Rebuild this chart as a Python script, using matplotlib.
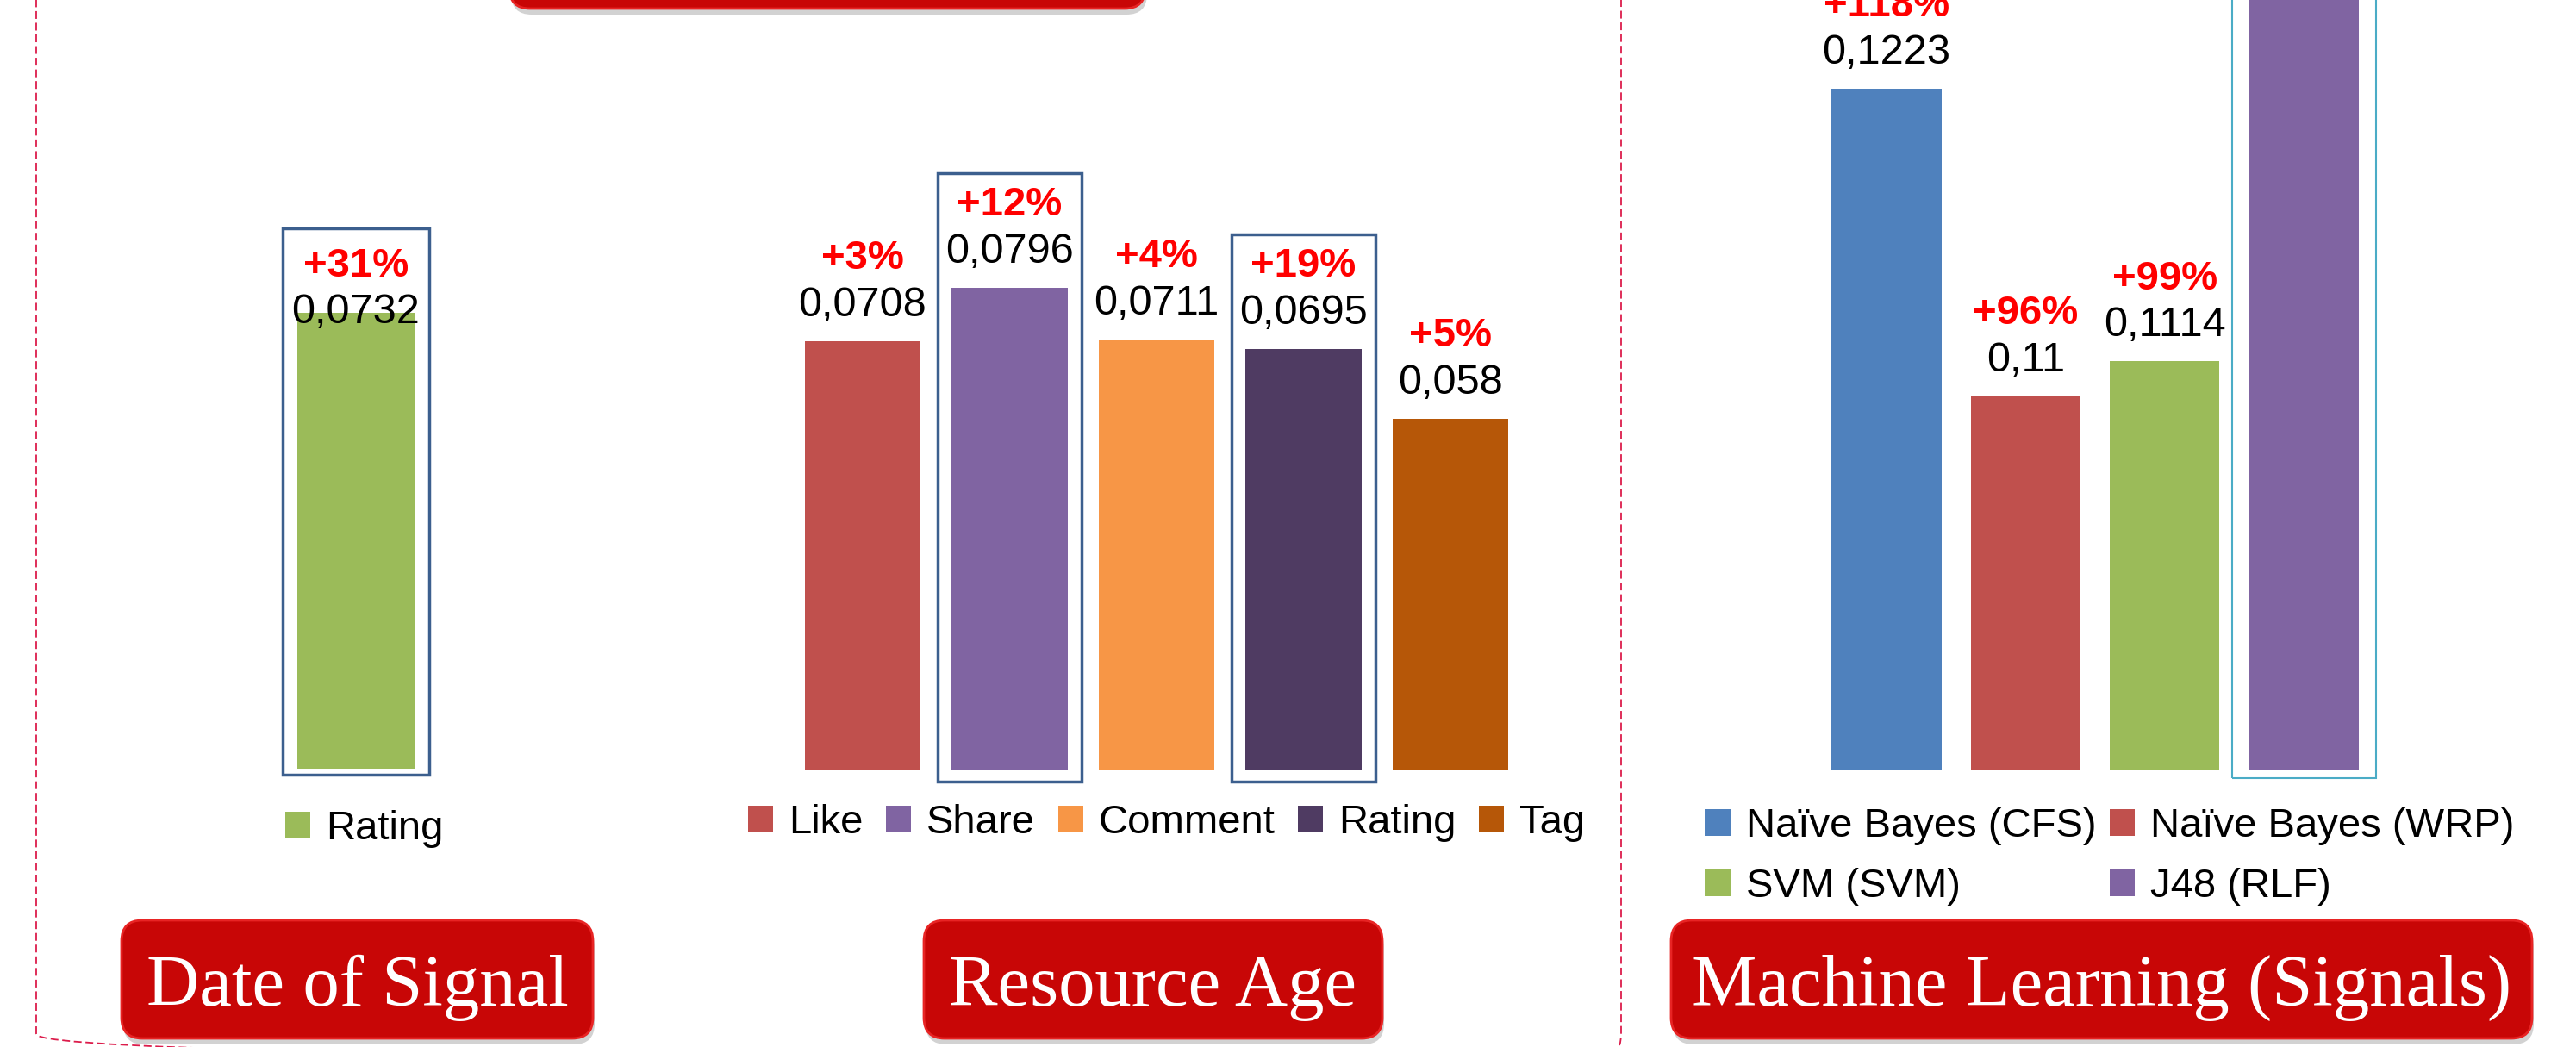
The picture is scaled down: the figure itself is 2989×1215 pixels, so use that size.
import numpy as np
import matplotlib
matplotlib.use('Agg')
import matplotlib.pyplot as plt
from matplotlib.patches import FancyBboxPatch

# data
date_names = ['Rating']
date_values = [0.0732]
date_gain = ['+31%']

age_names = ['Like', 'Share', 'Comment', 'Rating', 'Tag']
age_values = [0.0708, 0.0796, 0.0711, 0.0695, 0.058]
age_gain = ['+3%', '+12%', '+4%', '+19%', '+5%']

ml_names = ['Naïve Bayes (CFS)', 'Naïve Bayes (WRP)', 'SVM (SVM)', 'J48 (RLF)']
ml_values = [0.1223, 0.11, 0.1114, 0.135]
ml_gain = ['+118%', '+96%', '+99%', None]

panel_titles = ['Date of Signal', 'Resource Age', 'Machine Learning (Signals)']

plt.rcParams['font.family'] = ['Liberation Sans', 'DejaVu Sans']

W, H = 2989, 1215
fig = plt.figure(figsize=(W / 100, H / 100), dpi=100)

# overlay in pixel coords (y downwards) for buttons / frame
ov = fig.add_axes([0, 0, 1, 1])
ov.set_xlim(0, W)
ov.set_ylim(H, 0)
ov.axis('off')


def px_axes(x0, x1, y_bot):
    ax = fig.add_axes([x0 / W, 1 - y_bot / H, (x1 - x0) / W, y_bot / H])
    ax.axis('off')
    ax.patch.set_alpha(0)
    return ax


def fmt(v):
    return f"{v:.4f}".rstrip('0').replace('.', ',')


def panel(ax, values, colors, gains, ymin, ymax, n, box_idx, box_pad, box_low,
          box_w, box_color, box_lw, value_off):
    ax.set_xlim(-0.5, n - 0.5)
    ax.set_ylim(ymin, ymax)
    x = np.arange(len(values))
    vals = np.array(values)
    bars = ax.bar(x, vals - ymin, bottom=ymin, width=0.79, color=colors, zorder=2)
    for i in box_idx:
        ax.bar(x[i], vals[i] + box_pad - (ymin - box_low), bottom=ymin - box_low,
               width=box_w, fill=False, edgecolor=box_color, linewidth=box_lw,
               clip_on=False, zorder=1)
    for xi, v, g in zip(x, vals, gains):
        if g is None:
            continue
        ax.annotate(fmt(v), (xi, v), xytext=(0, value_off), textcoords='offset points',
                    ha='center', va='center', fontsize=35, color='black', zorder=3)
        ax.annotate(g, (xi, v), xytext=(0, value_off + 39), textcoords='offset points',
                    ha='center', va='center', fontsize=34, color='#FF0000',
                    fontweight='bold', zorder=3)
    return bars


leg_kw = dict(frameon=False, fontsize=34, borderpad=0, borderaxespad=0,
              handlelength=0.62, handleheight=0.62, handletextpad=0.38,
              bbox_transform=fig.transFigure)

# panel 1 - Date of Signal
ax1 = px_axes(326.5, 499.5, 892)
b1 = panel(ax1, date_values, ['#9BBB59'], date_gain, 0, 0.1234, 1,
           [0], 0.0136, 0.001, 0.977, '#3C5F8E', 2.5, 0)
ax1.legend(b1.patches, date_names, loc='center left',
           bbox_to_anchor=(331 / W, 1 - 962 / H), **leg_kw)

# panel 2 - Resource Age
ax2 = px_axes(915.75, 1768.25, 893)
b2 = panel(ax2, age_values, ['#C0504D', '#8064A2', '#F79646', '#4F3B62', '#B65708'],
           age_gain, 0, 0.1272, 5, [1, 3], 0.019, 0.002, 0.975, '#3C5F8E', 2.5, 30)
ax2.legend(b2.patches, age_names, loc='center left', ncol=5,
           bbox_to_anchor=(868 / W, 1 - 955 / H), columnspacing=0.56, **leg_kw)

# panel 3 - Machine Learning
ax3 = px_axes(2108.3, 2753.7, 893)
b3 = panel(ax3, ml_values, ['#4F81BD', '#C0504D', '#9BBB59', '#8064A2'], ml_gain,
           0.09508, 0.12585, 4, [3], 0.01, 0.00034, 1.035, '#4BACC6', 1.5, 30)
order = [0, 2, 1, 3]
ax3.legend([b3.patches[i] for i in order], [ml_names[i] for i in order],
           loc='center left', ncol=2, bbox_to_anchor=(1978.5 / W, 1 - 994 / H),
           columnspacing=0.33, labelspacing=0.55, **leg_kw)

# dashed panel frame
ov.add_patch(FancyBboxPatch((42, -200), 1881 - 42, 1430, boxstyle='round,pad=0,rounding_size=30',
                            fill=False, edgecolor='#DC1C4B', linewidth=1.3,
                            linestyle=(0, (5, 2.5))))


def button(x0, x1, y0, y1, text=None):
    ov.add_patch(FancyBboxPatch((x0 + 2, y0 + 7), x1 - x0, y1 - y0,
                                boxstyle='round,pad=0,rounding_size=24',
                                facecolor='#7F7F7F', edgecolor='none', alpha=0.35))
    ov.add_patch(FancyBboxPatch((x0, y0), x1 - x0, y1 - y0,
                                boxstyle='round,pad=0,rounding_size=24',
                                facecolor='#C80606', edgecolor='#E82424', linewidth=2))
    if text:
        ov.text((x0 + x1) / 2, y1 - 38, text, ha='center', va='baseline',
                fontsize=61, color='white', family='Liberation Serif')


button(591, 1329, -150, 10)
button(141, 688, 1068, 1205, panel_titles[0])
button(1072, 1604, 1068, 1205, panel_titles[1])
button(1939, 2938, 1068, 1205, panel_titles[2])

fig.savefig('out.png', dpi=100)
